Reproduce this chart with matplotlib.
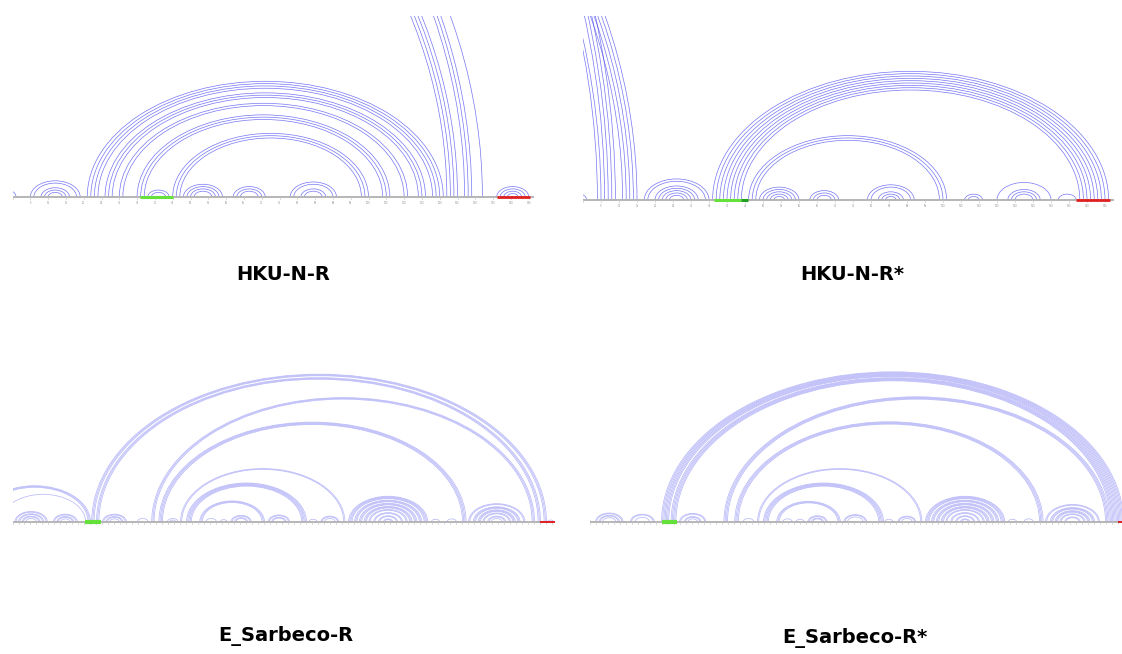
import matplotlib
matplotlib.use("Agg")
import matplotlib.pyplot as plt
from matplotlib.patches import Arc

# ---- data: helices as (first 5' base, last 3' base, number of stacked pairs) ----
# positions are nucleotide indices inside each cropped window
tl_stems = [(-6, 1, 2), (5, 19, 2), (8, 16, 3),
            (21, 121, 4), (26, 116, 3), (30, 111, 2), (35, 106, 3), (45, 100, 3),
            (38, 44, 2), (48, 59, 2), (50, 57, 2), (62, 71, 2), (64, 69, 1),
            (78, 91, 2), (81, 88, 2),
            (-494, 125, 4), (-586, 129, 3), (-558, 132, 1),
            (136, 145, 3), (139, 142, 1)]
tr_stems = [(-5, 1, 2), (-694, 15, 5), (-1110, 9, 4), (-950, 5, 1), (-1024, 4, 1),
            (17, 35, 2), (20, 32, 3), (23, 29, 2),
            (36, 146, 9), (46, 101, 3),
            (49, 60, 2), (51, 58, 2), (53, 56, 1), (63, 71, 2), (65, 69, 1),
            (79, 92, 2), (82, 89, 2), (84, 87, 1), (106, 111, 2),
            (115, 130, 1), (118, 127, 3), (132, 137, 1)]
bl_stems = [(-28, 65, 3), (-10, 61, 1),
            (2, 29, 2), (5, 26, 2), (8, 23, 2), (11, 20, 1),
            (34, 54, 2), (37, 51, 2), (40, 48, 1),
            (66, 445, 3), (70, 440, 3),
            (75, 95, 2), (78, 92, 2), (81, 89, 1), (104, 113, 1),
            (116, 435, 3), (122, 378, 4), (129, 138, 1), (131, 136, 1),
            (140, 277, 2), (145, 245, 5), (156, 210, 3),
            (161, 170, 1), (173, 179, 1), (182, 199, 2), (185, 196, 2),
            (213, 231, 2), (216, 228, 2), (247, 254, 1), (257, 272, 2), (260, 269, 1),
            (280, 346, 4), (285, 341, 3), (289, 337, 3), (293, 333, 3),
            (297, 329, 2), (301, 325, 2), (305, 321, 2), (309, 317, 2),
            (349, 356, 1), (362, 370, 1),
            (380, 427, 2), (384, 423, 3), (388, 419, 3), (392, 415, 2),
            (396, 411, 2), (399, 408, 1), (446, 451, 1)]
br_stems = [(-4, 1, 1),
            (5, 28, 2), (8, 25, 2), (11, 22, 1), (34, 54, 2), (38, 50, 1),
            (60, 445, 7), (68, 438, 5),
            (75, 97, 2), (79, 93, 2), (82, 90, 1),
            (112, 433, 4), (121, 378, 4), (128, 137, 1),
            (140, 277, 2), (145, 245, 5), (156, 209, 3),
            (161, 169, 1), (172, 179, 1), (182, 198, 2), (185, 195, 2),
            (212, 231, 2), (215, 228, 1), (246, 253, 1), (257, 272, 2), (260, 269, 1),
            (280, 346, 4), (285, 341, 3), (289, 337, 3), (293, 333, 3),
            (297, 329, 2), (301, 325, 2), (305, 321, 2), (309, 317, 2),
            (349, 356, 1), (362, 370, 1),
            (380, 425, 2), (384, 421, 3), (388, 417, 3), (392, 413, 2), (396, 409, 2)]

titles = ["HKU-N-R", "HKU-N-R*", "E_Sarbeco-R", "E_Sarbeco-R*"]
seq_len = [146.5, 147.5, 452, 452]
green_regions = [[(35.8, 45.1)], [(36.4, 44.0), (44.0, 45.8)], [(60.4, 73.8)], [(60.0, 73.0)]]
red_regions = [(136, 145.4), (137, 146.4), (440, 452), (440, 452)]

W, H = 1122, 654
FLAT = 0.65

# layout in pixels: left, top, right, bottom, baseline, px per nt
boxes = [(12.5, 16, 545, 210, 197, 3.56),
         (583, 16, 1122, 213, 200, 3.6),
         (12.5, 360, 570, 532, 522, 1.2),
         (589.5, 360, 1122, 532, 522, 1.2)]
title_pos = [(283, 274), (852, 274), (286, 636), (855, 638)]


def draw_panel(fig, box, stems, length, greens, red, top_style):
    left, top, right, bottom, base, scale = box
    ax = fig.add_axes([left / W, 1 - bottom / H, (right - left) / W, (bottom - top) / H])
    ax.set_xlim(0, (right - left) / scale)
    ax.set_ylim(-(bottom - base) / scale, (base - top) / scale)
    ax.axis('off')

    if top_style:
        col, alpha, lw = '#4040f0', 0.72, 0.5
    else:
        col, alpha, lw = '#8c8cf5', 0.6, 0.55
    for i, j, n in stems:
        for k in range(n):
            a, b = i + k, j - k
            w = b - a
            ax.add_patch(Arc(((a + b) / 2, 0), w, w * FLAT, theta1=0, theta2=180,
                             color=col, alpha=alpha, lw=lw))

    ax.plot([0, length], [0, 0], color='#b0b0b0', lw=1.3, solid_capstyle='butt', zorder=3)
    tick_len = 2.4 / scale
    for t in range(0, int(length) + 1, 5):
        ax.plot([t, t], [0, -tick_len], color='#c8c8c8', lw=0.5, zorder=3)
        if top_style and t > 0:
            ax.text(t, -tick_len * 1.5, str(t), fontsize=1.8, color='#909090',
                    ha='center', va='top')

    glw = 2.2 if top_style else 3.0
    for idx, (g0, g1) in enumerate(greens):
        gc = '#66e03a' if idx == 0 else '#22a022'
        ax.plot([g0, g1], [0, 0], color=gc, lw=glw, solid_capstyle='butt', zorder=4)
    ax.plot([red[0], red[1]], [0, 0], color='#e02020', lw=2.0 if top_style else 1.4,
            solid_capstyle='butt', zorder=4)
    return ax


fig = plt.figure(figsize=(W / 100, H / 100), dpi=100)
all_stems = [tl_stems, tr_stems, bl_stems, br_stems]
for p in range(4):
    draw_panel(fig, boxes[p], all_stems[p], seq_len[p], green_regions[p], red_regions[p], p < 2)
    x, y = title_pos[p]
    fig.text(x / W, 1 - y / H, titles[p], ha='center', va='center',
             fontsize=14, fontweight='bold', family='DejaVu Sans')

fig.savefig('out.png', dpi=100)
